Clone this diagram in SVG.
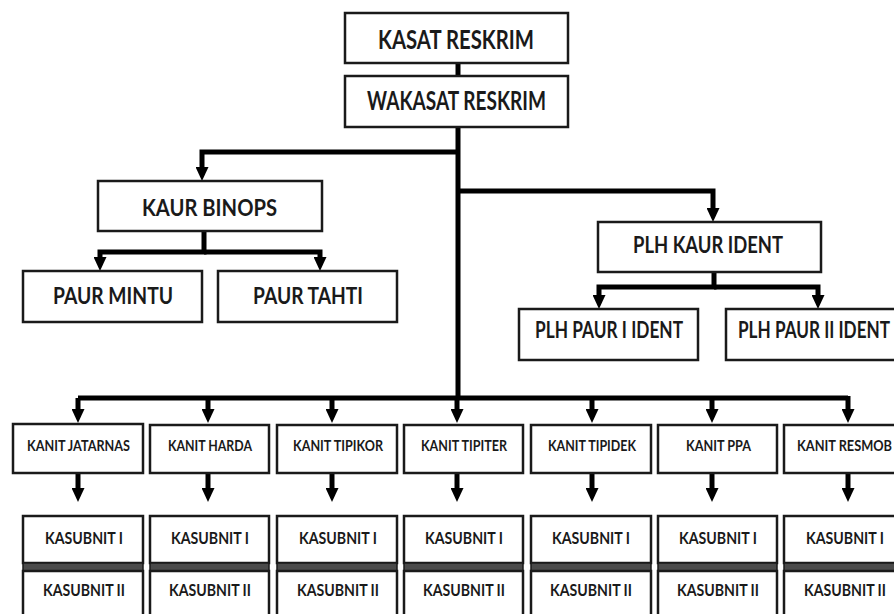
<svg xmlns="http://www.w3.org/2000/svg" width="894" height="614" viewBox="0 0 894 614">
<defs>
<style>
.box{fill:#fff;stroke:#1a1a1a;stroke-width:2.5}
.band{fill:#4a4a4a;stroke:#1a1a1a;stroke-width:1.5}
.t{font-family:Lato,"Open Sans","Liberation Sans",sans-serif;font-weight:bold;fill:#1a1a1a;text-anchor:middle}
.big{font-size:27px}
.mid{font-size:22px}
.kanit{font-size:15px}
.sub{font-size:17px}
.ln{fill:none;stroke:#000;stroke-width:5;stroke-linejoin:miter}
.la{fill:none;stroke:#000;stroke-width:5;marker-end:url(#ah)}
</style>
<marker id="ah" markerUnits="userSpaceOnUse" markerWidth="14" markerHeight="13" refX="0" refY="6.5" orient="auto" viewBox="0 0 14 13">
<path d="M0,0 L14,6.5 L0,13 z" fill="#000"/>
</marker>
</defs>
<rect width="894" height="614" fill="#fff"/>
<g id="connectors">
<path class="ln" d="M458,63 V76" stroke-width="4"/>
<path class="ln" d="M458,127 V398"/>
<path class="la" d="M458,152 H202 V167"/>
<path class="la" d="M458,191 H713 V208"/>
<path class="la" d="M204,231 V252 H100 V257"/>
<path class="la" d="M204,252 H320 V257"/>
<path class="la" d="M714,272 V287 H599 V295"/>
<path class="la" d="M714,287 H818 V295"/>
<path class="ln" d="M78,398 H848"/>
<path class="la" d="M78,398 V409"/>
<path class="la" d="M208,398 V409"/>
<path class="la" d="M332,398 V409"/>
<path class="la" d="M457,398 V409"/>
<path class="la" d="M592,398 V409"/>
<path class="la" d="M712,398 V409"/>
<path class="la" d="M848,396 V409"/>
<path class="la" d="M78,473 V488"/>
<path class="la" d="M208,473 V488"/>
<path class="la" d="M332,473 V488"/>
<path class="la" d="M457,473 V488"/>
<path class="la" d="M592,473 V488"/>
<path class="la" d="M712,473 V488"/>
<path class="la" d="M848,473 V488"/>
</g>
<g id="kasat"><rect class="box" x="345" y="13" width="223" height="50"/><text class="t big" x="456" y="49" textLength="156" lengthAdjust="spacingAndGlyphs">KASAT RESKRIM</text></g>
<g id="wakasat"><rect class="box" x="345" y="76" width="223" height="51"/><text class="t big" x="456.5" y="110" textLength="179" lengthAdjust="spacingAndGlyphs">WAKASAT RESKRIM</text></g>
<g id="kaur-binops"><rect class="box" x="98" y="181" width="224" height="50"/><text class="t mid" x="209.5" y="216" textLength="135" lengthAdjust="spacingAndGlyphs">KAUR BINOPS</text></g>
<g id="paur-mintu"><rect class="box" x="23" y="271" width="179" height="51"/><text class="t mid" x="113" y="304" textLength="120" lengthAdjust="spacingAndGlyphs">PAUR MINTU</text></g>
<g id="paur-tahti"><rect class="box" x="218" y="271" width="179" height="51"/><text class="t mid" x="308" y="304" textLength="110" lengthAdjust="spacingAndGlyphs">PAUR TAHTI</text></g>
<g id="plh-kaur-ident"><rect class="box" x="598" y="222" width="223" height="50"/><text class="t mid" x="708" y="253" textLength="150" lengthAdjust="spacingAndGlyphs">PLH KAUR IDENT</text></g>
<g id="plh-paur-1"><rect class="box" x="519" y="309" width="179" height="51"/><text class="t mid" x="609" y="338" textLength="148" lengthAdjust="spacingAndGlyphs">PLH PAUR I IDENT</text></g>
<g id="plh-paur-2"><rect class="box" x="726" y="309" width="180" height="51"/><text class="t mid" x="814" y="338" textLength="152" lengthAdjust="spacingAndGlyphs">PLH PAUR II IDENT</text></g>
<g id="kanit-jatarnas"><rect class="box" x="13" y="424" width="130" height="49"/><text class="t kanit" x="78.5" y="451" textLength="103" lengthAdjust="spacingAndGlyphs">KANIT JATARNAS</text></g>
<g id="kanit-harda"><rect class="box" x="150" y="425" width="119" height="48"/><text class="t kanit" x="210" y="451" textLength="84" lengthAdjust="spacingAndGlyphs">KANIT HARDA</text></g>
<g id="kanit-tipikor"><rect class="box" x="277" y="425" width="120" height="48"/><text class="t kanit" x="338" y="451" textLength="90" lengthAdjust="spacingAndGlyphs">KANIT TIPIKOR</text></g>
<g id="kanit-tipiter"><rect class="box" x="404" y="425" width="119" height="48"/><text class="t kanit" x="464" y="451" textLength="86" lengthAdjust="spacingAndGlyphs">KANIT TIPITER</text></g>
<g id="kanit-tipidek"><rect class="box" x="531" y="425" width="120" height="48"/><text class="t kanit" x="592" y="451" textLength="88" lengthAdjust="spacingAndGlyphs">KANIT TIPIDEK</text></g>
<g id="kanit-ppa"><rect class="box" x="658" y="425" width="119" height="48"/><text class="t kanit" x="718.5" y="451" textLength="65" lengthAdjust="spacingAndGlyphs">KANIT PPA</text></g>
<g id="kanit-resmob"><rect class="box" x="784" y="425" width="122" height="48"/><text class="t kanit" x="844.5" y="451" textLength="95" lengthAdjust="spacingAndGlyphs">KANIT RESMOB</text></g>
<g id="sub-jatarnas"><rect class="box" x="23" y="516" width="120" height="47"/><rect class="band" x="23" y="563" width="120" height="8"/><rect class="box" x="23" y="571" width="120" height="60"/><text class="t sub" x="84" y="544" textLength="78" lengthAdjust="spacingAndGlyphs">KASUBNIT I</text><text class="t sub" x="84" y="596" textLength="82" lengthAdjust="spacingAndGlyphs">KASUBNIT II</text></g>
<g id="sub-harda"><rect class="box" x="150" y="516" width="119" height="47"/><rect class="band" x="150" y="563" width="119" height="8"/><rect class="box" x="150" y="571" width="119" height="60"/><text class="t sub" x="210" y="544" textLength="78" lengthAdjust="spacingAndGlyphs">KASUBNIT I</text><text class="t sub" x="210" y="596" textLength="82" lengthAdjust="spacingAndGlyphs">KASUBNIT II</text></g>
<g id="sub-tipikor"><rect class="box" x="277" y="516" width="120" height="47"/><rect class="band" x="277" y="563" width="120" height="8"/><rect class="box" x="277" y="571" width="120" height="60"/><text class="t sub" x="338" y="544" textLength="78" lengthAdjust="spacingAndGlyphs">KASUBNIT I</text><text class="t sub" x="338" y="596" textLength="82" lengthAdjust="spacingAndGlyphs">KASUBNIT II</text></g>
<g id="sub-tipiter"><rect class="box" x="404" y="516" width="119" height="47"/><rect class="band" x="404" y="563" width="119" height="8"/><rect class="box" x="404" y="571" width="119" height="60"/><text class="t sub" x="464" y="544" textLength="78" lengthAdjust="spacingAndGlyphs">KASUBNIT I</text><text class="t sub" x="464" y="596" textLength="82" lengthAdjust="spacingAndGlyphs">KASUBNIT II</text></g>
<g id="sub-tipidek"><rect class="box" x="531" y="516" width="120" height="47"/><rect class="band" x="531" y="563" width="120" height="8"/><rect class="box" x="531" y="571" width="120" height="60"/><text class="t sub" x="591" y="544" textLength="78" lengthAdjust="spacingAndGlyphs">KASUBNIT I</text><text class="t sub" x="591" y="596" textLength="82" lengthAdjust="spacingAndGlyphs">KASUBNIT II</text></g>
<g id="sub-ppa"><rect class="box" x="658" y="516" width="119" height="47"/><rect class="band" x="658" y="563" width="119" height="8"/><rect class="box" x="658" y="571" width="119" height="60"/><text class="t sub" x="718" y="544" textLength="78" lengthAdjust="spacingAndGlyphs">KASUBNIT I</text><text class="t sub" x="718" y="596" textLength="82" lengthAdjust="spacingAndGlyphs">KASUBNIT II</text></g>
<g id="sub-resmob"><rect class="box" x="784" y="516" width="122" height="47"/><rect class="band" x="784" y="563" width="122" height="8"/><rect class="box" x="784" y="571" width="122" height="60"/><text class="t sub" x="845" y="544" textLength="78" lengthAdjust="spacingAndGlyphs">KASUBNIT I</text><text class="t sub" x="845" y="596" textLength="82" lengthAdjust="spacingAndGlyphs">KASUBNIT II</text></g>
</svg>
